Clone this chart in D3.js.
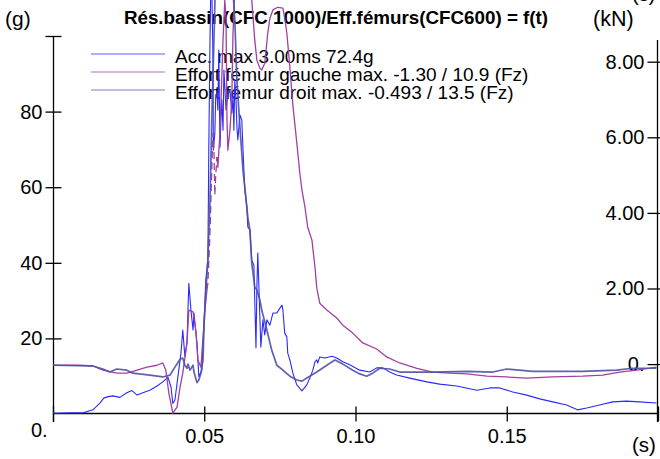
<!DOCTYPE html>
<html>
<head>
<meta charset="utf-8">
<script src="https://cdn.jsdelivr.net/npm/d3@7"></script>
<style>
  body { margin: 0; background: #fff; }
  svg { display: block; }
  text { font-family: "Liberation Sans", Arial, Helvetica, sans-serif; fill: #000; }
</style>
</head>
<body>
<svg id="chart" width="660" height="459"></svg>
<script>
// Pelvis acceleration (g) and femur forces (kN) versus time (ms)
const accel = [[0,0.2],[5.6,0.3],[9.9,0.3],[13.2,1.1],[15.5,2.9],[16.8,4.2],[18.2,4.6],[19.8,4.8],[22.1,4.4],[24.4,5.6],[26.1,6.2],[27.8,5.0],[29.7,5.6],[32.0,6.3],[34.4,7.4],[36.3,8.5],[38.0,9.7],[39.0,7.2],[39.6,2.8],[40.3,3.7],[41.3,9.9],[42.3,16.1],[42.9,22.2],[43.6,15.2],[44.3,19.1],[44.9,34.6],[45.6,27.5],[46.3,22.2],[46.6,26.7],[47.6,18.8],[48.2,9.9],[49.2,11.6],[49.9,23.1],[50.5,35.4],[51.2,40.7],[51.5,69.8],[51.9,98.9],[52.2,114.8],[52.5,112.2],[52.9,93.7],[53.0,69.8],[53.5,74.3],[53.8,84.4],[54.2,84.9],[54.5,80.4],[54.8,96.3],[55.2,70.6],[55.5,77.8],[55.8,83.1],[56.2,75.1],[56.5,91.0],[56.8,86.5],[57.2,80.4],[57.5,82.3],[57.8,84.4],[58.5,85.7],[59.1,79.6],[59.5,83.9],[59.8,75.1],[60.1,88.4],[60.5,83.1],[60.8,75.9],[61.1,72.5],[61.8,79.1],[62.4,77.8],[63.1,64.6],[63.4,59.3],[64.1,54.8],[64.4,49.5],[65.1,48.7],[65.7,40.7],[66.4,39.4],[67.1,17.5],[67.4,33.6],[67.7,42.6],[68.1,32.8],[68.7,17.7],[69.4,24.9],[70.0,20.9],[70.7,24.9],[71.7,23.5],[72.7,26.7],[74.0,26.7],[75.0,28.0],[75.7,28.8],[76.0,27.5],[76.6,21.4],[77.3,20.4],[77.6,16.1],[78.3,14.3],[79.3,10.8],[80.6,7.7],[82.3,6.1],[83.9,7.7],[84.9,9.5],[85.9,11.6],[86.6,13.8],[87.2,14.3],[87.5,13.5],[88.2,15.1],[89.9,14.8],[92.2,15.3],[93.8,14.8],[95.8,13.8],[98.1,13.0],[101.4,11.6],[104.7,11.1],[107.0,12.2],[109.0,12.2],[111.3,11.1],[113.6,10.3],[117.9,9.5],[123.6,8.5],[127.8,7.9],[133.5,7.4],[140.1,6.3],[144.4,6.9],[147.7,6.9],[152.0,5.8],[156.6,5.0],[160.9,4.0],[165.2,3.2],[169.8,2.4],[173.4,1.1],[176.4,1.6],[180.7,2.4],[185.0,3.2],[189.6,3.4],[193.9,3.2],[199.5,2.9]];

const femurGauche = [[0,-0.03],[8.9,-0.03],[13.2,-0.05],[16.5,-0.16],[21.1,-0.24],[24.4,-0.24],[27.8,-0.16],[31.1,-0.08],[34.4,-0.03],[36.3,0.03],[37.3,-0.16],[38.3,-0.77],[39.6,-1.30],[41.0,-1.14],[42.0,-0.61],[42.9,-0.24],[44.3,0.56],[44.9,1.43],[46.3,1.38],[47.2,0.90],[47.9,0.11],[48.9,-0.08],[49.6,0.71],[50.2,1.43],[50.9,1.96],[51.2,2.14],[51.9,3.47],[52.5,5.21],[52.9,6.11],[53.2,5.66],[53.5,4.47],[53.8,5.00],[54.2,5.48],[54.5,5.21],[55.2,6.11],[56.2,8.57],[56.8,9.63],[57.2,9.10],[57.5,6.53],[57.8,5.66],[58.5,6.19],[59.1,6.98],[59.5,8.76],[60.1,9.89],[61.8,10.69],[63.4,10.9],[64.8,10.29],[65.7,9.63],[66.7,8.57],[67.4,8.04],[68.4,7.83],[69.0,7.78],[70.0,7.96],[71.0,8.76],[71.7,9.15],[72.7,9.37],[74.3,9.44],[76.0,9.42],[76.6,9.15],[77.3,8.76],[78.3,7.86],[79.3,6.85],[80.6,5.85],[81.6,5.05],[82.3,4.60],[83.3,4.15],[84.2,3.62],[85.6,3.28],[86.6,2.57],[87.2,2.01],[88.2,1.61],[90.5,1.43],[93.8,1.22],[95.8,1.03],[99.1,0.82],[102.4,0.56],[107.0,0.40],[110.3,0.19],[114.6,0.03],[120.3,-0.11],[125.5,-0.21],[131.2,-0.24],[136.8,-0.26],[143.4,-0.32],[150.0,-0.34],[156.6,-0.37],[165.2,-0.34],[175.1,-0.32],[181.7,-0.29],[187.3,-0.21],[192.9,-0.16],[199.5,-0.08]];

const femurDroit = [[0,-0.03],[13.2,-0.05],[16.5,-0.13],[18.8,-0.21],[21.1,-0.13],[24.4,-0.16],[26.4,-0.24],[32.0,-0.29],[36.3,-0.34],[38.7,-0.29],[40.3,-0.08],[42.0,0.13],[42.9,0.16],[43.6,-0.03],[44.3,-0.11],[44.6,0.0],[45.3,-0.16],[46.3,-0.03],[46.6,-0.21],[47.6,-0.49],[48.2,-0.42],[48.9,-0.24],[49.6,0.11],[49.9,0.98],[50.5,1.88],[51.2,2.75],[51.9,4.34],[52.5,6.46],[53.2,8.57],[53.8,10.42],[54.8,12.2],[56.2,13.5],[57.8,11.9],[59.1,10.4],[60.1,9.1],[60.8,7.51],[61.8,6.27],[62.8,5.13],[63.4,4.68],[64.4,3.89],[65.1,3.54],[65.7,2.67],[66.7,2.04],[67.4,1.96],[68.4,1.69],[69.0,1.43],[70.7,0.90],[72.3,0.37],[74.0,-0.03],[76.0,-0.16],[78.3,-0.32],[80.6,-0.42],[82.3,-0.45],[83.9,-0.37],[87.2,-0.21],[90.5,-0.03],[93.2,0.11],[95.8,0.0],[99.1,-0.16],[101.4,-0.26],[103.7,-0.32],[105.7,-0.24],[108.0,-0.11],[111.3,-0.13],[114.6,-0.21],[125.5,-0.21],[136.8,-0.19],[145.4,-0.21],[150.0,-0.13],[158.6,-0.19],[175.1,-0.19],[186.3,-0.16],[191.6,-0.11],[199.5,-0.11]];

// Tick positions and their printed labels
const timeTicks = [0, 50, 100, 150, 200];
const timeLabels = ["", "0.05", "0.10", "0.15", ""];
const gTicks = [20, 40, 60, 80, 100];
const gLabels = ["20", "40", "60", "80", ""];
const kNTicks = [0, 2, 4, 6, 8];
const kNLabels = ["0.", "2.00", "4.00", "6.00", "8.00"];

const legendLabels = [
  "Acc. max 3.00ms 72.4g",
  "Effort fémur gauche max. -1.30 / 10.9 (Fz)",
  "Effort fémur droit max. -0.493 / 13.5 (Fz)"
];
const seriesColors = ["#2a2aff", "#a040a0", "#5050a6"];

const svg = d3.select("#chart");

const x = d3.scaleLinear().domain([0, 200]).range([53, 658]);
const yG = d3.scaleLinear().domain([0, 100]).range([414, 36]);
const yKN = d3.scaleLinear().domain([-1.32, 8.68]).range([414, 36]);

// Titles and units
svg.append("text").attr("x", 336).attr("y", 24).attr("text-anchor", "middle")
  .attr("font-size", 18.8).attr("font-weight", "bold")
  .text("Rés.bassin(CFC 1000)/Eff.fémurs(CFC600) = f(t)");
svg.append("text").attr("x", 5).attr("y", 26).attr("font-size", 21).text("(g)");
svg.append("text").attr("x", 593).attr("y", 26).attr("font-size", 21.5).text("(kN)");
svg.append("text").attr("x", 632).attr("y", 1).attr("font-size", 20).text("(s)");
svg.append("text").attr("x", 632).attr("y", 452).attr("font-size", 20.5).text("(s)");
svg.append("text").attr("x", 31).attr("y", 437).attr("font-size", 20).text("0.");

// Axis lines
const axisG = svg.append("g").attr("stroke", "#000").attr("stroke-width", 1.3);
axisG.append("line").attr("x1", 53.5).attr("x2", 53.5).attr("y1", yG(100)).attr("y2", 422);
axisG.append("line").attr("x1", 657.5).attr("x2", 657.5).attr("y1", 40).attr("y2", 422);
axisG.append("line").attr("x1", 53).attr("x2", 658).attr("y1", 413.5).attr("y2", 413.5);

function styleAxis(g) {
  g.select(".domain").remove();
  g.selectAll(".tick line").attr("stroke", "#000").attr("stroke-width", 1.3);
  g.selectAll(".tick text").attr("font-size", 20)
    .attr("font-family", "Liberation Sans, Arial, sans-serif").attr("fill", "#000");
}

// Left axis (g)
svg.append("g").attr("transform", "translate(53.5,0)")
  .call(d3.axisLeft(yG).tickValues(gTicks)
    .tickFormat((d, i) => gLabels[i]).tickSize(8).tickPadding(3))
  .call(styleAxis)
  .call(g => g.selectAll(".tick line").attr("x1", 8));

// Right axis (kN), labels inside the plot
svg.append("g").attr("transform", "translate(657.5,0)")
  .call(d3.axisLeft(yKN).tickValues(kNTicks)
    .tickFormat((d, i) => kNLabels[i]).tickSize(10).tickPadding(3))
  .call(styleAxis)
  .call(g => g.selectAll(".tick line").attr("x1", 8));

// Time axis
svg.append("g").attr("transform", "translate(0,413.5)")
  .call(d3.axisBottom(x).tickValues(timeTicks)
    .tickFormat((d, i) => timeLabels[i]).tickSize(8).tickPadding(7))
  .call(styleAxis)
  .call(g => g.selectAll(".tick line").attr("y1", -7));

// Legend
const legend = svg.append("g");
legendLabels.forEach((label, i) => {
  const yy = 54 + i * 18;
  legend.append("line").attr("x1", 91).attr("x2", 165).attr("y1", yy).attr("y2", yy)
    .attr("stroke", seriesColors[i]).attr("stroke-width", 1.2).attr("opacity", 0.75);
  legend.append("text").attr("x", 175).attr("y", yy + 9).attr("font-size", 19).text(label);
});

// Curves
const lineG = d3.line().x(d => x(d[0])).y(d => yG(d[1]));
const lineKN = d3.line().x(d => x(d[0])).y(d => yKN(d[1]));

svg.append("path").datum(accel).attr("d", lineG)
  .attr("fill", "none").attr("stroke", seriesColors[0]).attr("stroke-width", 1.1)
  .attr("stroke-linejoin", "round");

// Left femur: the steep rise around 51–54 ms is stroked dashed
const dashFrom = 50.9, dashTo = 54.2;
const gaucheA = femurGauche.filter(d => d[0] <= dashFrom);
const gaucheB = femurGauche.filter(d => d[0] >= dashFrom && d[0] <= dashTo);
const gaucheC = femurGauche.filter(d => d[0] >= dashTo);
[gaucheA, gaucheB, gaucheC].forEach((seg, i) => {
  svg.append("path").datum(seg).attr("d", lineKN)
    .attr("fill", "none").attr("stroke", seriesColors[1]).attr("stroke-width", 1.3)
    .attr("stroke-linejoin", "round")
    .attr("stroke-dasharray", i === 1 ? "7,4" : null);
});

svg.append("path").datum(femurDroit).attr("d", lineKN)
  .attr("fill", "none").attr("stroke", seriesColors[2]).attr("stroke-width", 1.7)
  .attr("stroke-opacity", 0.9).attr("stroke-linejoin", "round");
</script>
</body>
</html>
